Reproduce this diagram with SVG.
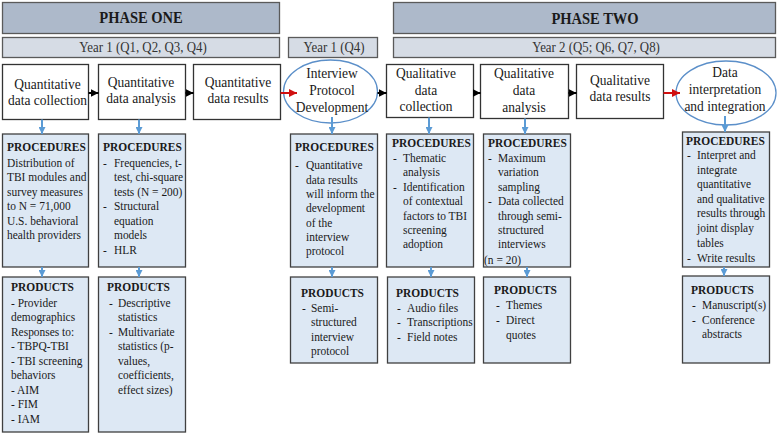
<svg xmlns="http://www.w3.org/2000/svg" width="777" height="433" viewBox="0 0 777 433">
<defs>
<style>
text{font-family:"Liberation Serif","Times New Roman",serif;fill:#1a1a1a}
.phase{fill:#adb9ca;stroke:#5a5a5a;stroke-width:1.3}
.year{fill:#d6dce5;stroke:#5a5a5a;stroke-width:1.3}
.proc{fill:#fff;stroke:#333;stroke-width:1.3}
.ell{fill:#fff;stroke:#5b8fc9;stroke-width:1.3}
.box{fill:#dde8f4;stroke:#404040;stroke-width:1.3}
.pt{font-size:16.5px;font-weight:bold;text-anchor:middle}
.yt{font-size:14px;text-anchor:middle;fill:#333}
.nt{font-size:15px;text-anchor:middle}
.hd{font-size:13px;font-weight:bold}
.bd{font-size:13px}
.blk{stroke:#000;stroke-width:2;fill:none}
.red{stroke:#d01010;stroke-width:2;fill:none}
.blu{stroke:#5b9bd5;stroke-width:2;fill:none}
</style>
<marker id="ab" markerUnits="userSpaceOnUse" markerWidth="8" markerHeight="8" viewBox="0 0 8 8" refX="8" refY="4" orient="auto"><path d="M0,0 L8,4 L0,8 z" fill="#000"/></marker>
<marker id="ar" markerUnits="userSpaceOnUse" markerWidth="8" markerHeight="8" viewBox="0 0 8 8" refX="8" refY="4" orient="auto"><path d="M0,0 L8,4 L0,8 z" fill="#d01010"/></marker>
<marker id="au" markerUnits="userSpaceOnUse" markerWidth="7" markerHeight="7" viewBox="0 0 8 8" refX="8" refY="4" orient="auto"><path d="M0,0 L8,4 L0,8 z" fill="#5b9bd5"/></marker>
</defs>
<rect width="777" height="433" fill="#fff"/>

<g id="phase-one"><rect class="phase" x="2.5" y="2.5" width="277" height="31"/><text class="pt" transform="matrix(0.88 0 0 1 141 0)" x="0" y="23.5">PHASE ONE</text></g>
<g id="phase-two"><rect class="phase" x="393.5" y="2.5" width="382" height="31"/><text class="pt" transform="matrix(0.88 0 0 1 595 0)" x="0" y="24">PHASE TWO</text></g>
<g id="year1"><rect class="year" x="2.5" y="37.5" width="277" height="20"/><text class="yt" transform="matrix(0.92 0 0 1 143 0)" x="0" y="52.5">Year 1 (Q1, Q2, Q3, Q4)</text></g>
<g id="year1q4"><rect class="year" x="288.5" y="37.5" width="89" height="20"/><text class="yt" transform="matrix(0.92 0 0 1 334 0)" x="0" y="52.5">Year 1 (Q4)</text></g>
<g id="year2"><rect class="year" x="393.5" y="37.5" width="382" height="20"/><text class="yt" transform="matrix(0.92 0 0 1 596 0)" x="0" y="52.5">Year 2 (Q5; Q6, Q7, Q8)</text></g>

<g id="quant-collection"><rect class="proc" x="2.5" y="64.5" width="86" height="55"/><text class="nt" transform="matrix(0.9 0 0 1 47.5 0)"><tspan x="0" y="89">Quantitative</tspan><tspan x="0" y="105">data collection</tspan></text></g>
<g id="quant-analysis"><rect class="proc" x="98.5" y="64.5" width="87" height="55"/><text class="nt" transform="matrix(0.9 0 0 1 141 0)"><tspan x="0" y="87.5">Quantitative</tspan><tspan x="0" y="103.5">data analysis</tspan></text></g>
<g id="quant-results"><rect class="proc" x="193.5" y="64.5" width="87" height="55"/><text class="nt" transform="matrix(0.9 0 0 1 238 0)"><tspan x="0" y="87">Quantitative</tspan><tspan x="0" y="103.5">data results</tspan></text></g>
<g id="interview-protocol"><ellipse class="ell" cx="330.5" cy="91.5" rx="47" ry="31.5"/><text class="nt" transform="matrix(0.9 0 0 1 332 0)"><tspan x="0" y="78.5">Interview</tspan><tspan x="0" y="95.5">Protocol</tspan><tspan x="0" y="112">Development</tspan></text></g>
<g id="qual-collection"><rect class="proc" x="386.5" y="64.5" width="87" height="53"/><text class="nt" transform="matrix(0.9 0 0 1 426 0)"><tspan x="0" y="78.5">Qualitative</tspan><tspan x="0" y="95">data</tspan><tspan x="0" y="111.5">collection</tspan></text></g>
<g id="qual-analysis"><rect class="proc" x="480.5" y="64.5" width="88" height="54"/><text class="nt" transform="matrix(0.9 0 0 1 524 0)"><tspan x="0" y="78.5">Qualitative</tspan><tspan x="0" y="95.5">data</tspan><tspan x="0" y="112.5">analysis</tspan></text></g>
<g id="qual-results"><rect class="proc" x="576.5" y="64.5" width="87" height="54"/><text class="nt" transform="matrix(0.9 0 0 1 620 0)"><tspan x="0" y="85.5">Qualitative</tspan><tspan x="0" y="101.5">data results</tspan></text></g>
<g id="interpretation"><ellipse class="ell" cx="726" cy="93" rx="50" ry="32"/><text class="nt" transform="matrix(0.9 0 0 1 725 0)"><tspan x="0" y="77.5">Data</tspan><tspan x="0" y="94.5">interpretation</tspan><tspan x="0" y="111.5">and integration</tspan></text></g>

<g id="proc1"><rect class="box" x="2.5" y="134" width="86" height="133"/>
<text class="hd" transform="matrix(0.88 0 0 1 7 0)" x="0" y="151.5">PROCEDURES</text>
<text class="bd" transform="matrix(0.88 0 0 1 7 0)"><tspan x="0" y="167">Distribution of</tspan><tspan x="0" y="181.5">TBI modules and</tspan><tspan x="0" y="196">survey measures</tspan><tspan x="0" y="210.5">to N = 71,000</tspan><tspan x="0" y="225">U.S. behavioral</tspan><tspan x="0" y="239.5">health providers</tspan></text></g>
<g id="proc2"><rect class="box" x="98.5" y="134" width="87" height="133"/>
<text class="hd" transform="matrix(0.88 0 0 1 103 0)" x="0" y="151.5">PROCEDURES</text>
<text class="bd" transform="matrix(0.88 0 0 1 103 0)"><tspan x="0" y="167">-</tspan><tspan x="12.5" y="167">Frequencies, t-</tspan><tspan x="12.5" y="181.5">test, chi-square</tspan><tspan x="12.5" y="196">tests (N = 200)</tspan><tspan x="0" y="210.5">-</tspan><tspan x="12.5" y="210.5">Structural</tspan><tspan x="12.5" y="225">equation</tspan><tspan x="12.5" y="239.5">models</tspan><tspan x="0" y="254">-</tspan><tspan x="12.5" y="254">HLR</tspan></text></g>
<g id="proc3"><rect class="box" x="290.5" y="134" width="87" height="133"/>
<text class="hd" transform="matrix(0.88 0 0 1 295 0)" x="0" y="151.5">PROCEDURES</text>
<text class="bd" transform="matrix(0.88 0 0 1 295 0)"><tspan x="0" y="169.5">-</tspan><tspan x="12.5" y="169.5">Quantitative</tspan><tspan x="12.5" y="183.8">data results</tspan><tspan x="12.5" y="198.1">will inform the</tspan><tspan x="12.5" y="212.4">development</tspan><tspan x="12.5" y="226.7">of the</tspan><tspan x="12.5" y="241">interview</tspan><tspan x="12.5" y="255.3">protocol</tspan></text></g>
<g id="proc4"><rect class="box" x="386.5" y="134" width="87" height="133"/>
<text class="hd" transform="matrix(0.88 0 0 1 392 0)" x="0" y="147.5">PROCEDURES</text>
<text class="bd" transform="matrix(0.88 0 0 1 393 0)"><tspan x="0" y="162">-</tspan><tspan x="11.4" y="162">Thematic</tspan><tspan x="11.4" y="176.5">analysis</tspan><tspan x="0" y="191">-</tspan><tspan x="11.4" y="191">Identification</tspan><tspan x="11.4" y="205.5">of contextual</tspan><tspan x="11.4" y="220">factors to TBI</tspan><tspan x="11.4" y="234">screening</tspan><tspan x="11.4" y="248.5">adoption</tspan></text></g>
<g id="proc5"><rect class="box" x="483.5" y="134" width="87" height="133"/>
<text class="hd" transform="matrix(0.88 0 0 1 488 0)" x="0" y="147.5">PROCEDURES</text>
<text class="bd" transform="matrix(0.88 0 0 1 488 0)"><tspan x="0" y="162">-</tspan><tspan x="11.4" y="162">Maximum</tspan><tspan x="11.4" y="176.5">variation</tspan><tspan x="11.4" y="191">sampling</tspan><tspan x="0" y="205.5">-</tspan><tspan x="11.4" y="205.5">Data collected</tspan><tspan x="11.4" y="220">through semi-</tspan><tspan x="11.4" y="234">structured</tspan><tspan x="11.4" y="248.5">interviews</tspan><tspan x="-4.5" y="264">(n = 20)</tspan></text></g>
<g id="proc6"><rect class="box" x="682.5" y="132" width="87" height="135"/>
<text class="hd" transform="matrix(0.88 0 0 1 686 0)" x="0" y="145.5">PROCEDURES</text>
<text class="bd" transform="matrix(0.88 0 0 1 687 0)"><tspan x="0" y="159">-</tspan><tspan x="11.4" y="159">Interpret and</tspan><tspan x="11.4" y="174">integrate</tspan><tspan x="11.4" y="188">quantitative</tspan><tspan x="11.4" y="203">and qualitative</tspan><tspan x="11.4" y="217">results through</tspan><tspan x="11.4" y="232">joint display</tspan><tspan x="11.4" y="247">tables</tspan><tspan x="0" y="262">-</tspan><tspan x="11.4" y="262">Write results</tspan></text></g>

<g id="prod1"><rect class="box" x="2.5" y="277" width="86" height="155"/>
<text class="hd" transform="matrix(0.88 0 0 1 11 0)" x="0" y="291.5">PRODUCTS</text>
<text class="bd" transform="matrix(0.88 0 0 1 11 0)"><tspan x="0" y="307">- Provider</tspan><tspan x="0" y="321.5">demographics</tspan><tspan x="0" y="336">Responses to:</tspan><tspan x="0" y="350.5">- TBPQ-TBI</tspan><tspan x="0" y="365">- TBI screening</tspan><tspan x="0" y="379.5">behaviors</tspan><tspan x="0" y="394">- AIM</tspan><tspan x="0" y="408.5">- FIM</tspan><tspan x="0" y="423">- IAM</tspan></text></g>
<g id="prod2"><rect class="box" x="98.5" y="277" width="87" height="155"/>
<text class="hd" transform="matrix(0.88 0 0 1 107 0)" x="0" y="291.5">PRODUCTS</text>
<text class="bd" transform="matrix(0.88 0 0 1 109 0)"><tspan x="0" y="307">-</tspan><tspan x="10.2" y="307">Descriptive</tspan><tspan x="10.2" y="321.5">statistics</tspan><tspan x="0" y="336">-</tspan><tspan x="10.2" y="336">Multivariate</tspan><tspan x="10.2" y="350.5">statistics (p-</tspan><tspan x="10.2" y="365">values,</tspan><tspan x="10.2" y="379.5">coefficients,</tspan><tspan x="10.2" y="394">effect sizes)</tspan></text></g>
<g id="prod3"><rect class="box" x="290.5" y="277" width="87" height="86"/>
<text class="hd" transform="matrix(0.88 0 0 1 301 0)" x="0" y="297">PRODUCTS</text>
<text class="bd" transform="matrix(0.88 0 0 1 302 0)"><tspan x="0" y="312">-</tspan><tspan x="10.2" y="312">Semi-</tspan><tspan x="10.2" y="326.5">structured</tspan><tspan x="10.2" y="341">interview</tspan><tspan x="10.2" y="355.5">protocol</tspan></text></g>
<g id="prod4"><rect class="box" x="387.5" y="277" width="87" height="86"/>
<text class="hd" transform="matrix(0.88 0 0 1 396 0)" x="0" y="297">PRODUCTS</text>
<text class="bd" transform="matrix(0.88 0 0 1 397 0)"><tspan x="0" y="312">-</tspan><tspan x="11.4" y="312">Audio files</tspan><tspan x="0" y="326.5">-</tspan><tspan x="11.4" y="326.5">Transcriptions</tspan><tspan x="0" y="341">-</tspan><tspan x="11.4" y="341">Field notes</tspan></text></g>
<g id="prod5"><rect class="box" x="483.5" y="277" width="87" height="86"/>
<text class="hd" transform="matrix(0.88 0 0 1 494 0)" x="0" y="294">PRODUCTS</text>
<text class="bd" transform="matrix(0.88 0 0 1 496 0)"><tspan x="0" y="309">-</tspan><tspan x="11.4" y="309">Themes</tspan><tspan x="0" y="324">-</tspan><tspan x="11.4" y="324">Direct</tspan><tspan x="11.4" y="339">quotes</tspan></text></g>
<g id="prod6"><rect class="box" x="682.5" y="276" width="87" height="87"/>
<text class="hd" transform="matrix(0.88 0 0 1 691 0)" x="0" y="294">PRODUCTS</text>
<text class="bd" transform="matrix(0.88 0 0 1 692 0)"><tspan x="0" y="309">-</tspan><tspan x="11.4" y="309">Manuscript(s)</tspan><tspan x="0" y="324">-</tspan><tspan x="11.4" y="324">Conference</tspan><tspan x="11.4" y="338.5">abstracts</tspan></text></g>

<g id="connectors">
<line class="blk" x1="88.5" y1="93" x2="98.5" y2="93" marker-end="url(#ab)"/>
<line class="blk" x1="185.5" y1="93" x2="193.5" y2="93" marker-end="url(#ab)"/>
<line class="red" x1="280.5" y1="93" x2="297" y2="93" marker-end="url(#ar)"/>
<line class="blk" x1="377.5" y1="93" x2="386.5" y2="93" marker-end="url(#ab)"/>
<line class="blk" x1="473.5" y1="93" x2="480.5" y2="93" marker-end="url(#ab)"/>
<line class="blk" x1="568.5" y1="93" x2="576.5" y2="93" marker-end="url(#ab)"/>
<line class="red" x1="663.5" y1="93" x2="680" y2="93" marker-end="url(#ar)"/>
<line class="blu" x1="42" y1="119.5" x2="42" y2="134" marker-end="url(#au)"/>
<line class="blu" x1="139" y1="119.5" x2="139" y2="134" marker-end="url(#au)"/>
<line class="blu" x1="332" y1="117" x2="332" y2="134" marker-end="url(#au)"/>
<line class="blu" x1="429" y1="117.5" x2="429" y2="134" marker-end="url(#au)"/>
<line class="blu" x1="525" y1="118.5" x2="525" y2="134" marker-end="url(#au)"/>
<line class="blu" x1="725" y1="116" x2="725" y2="132" marker-end="url(#au)"/>
<line class="blu" x1="42" y1="267" x2="42" y2="277" marker-end="url(#au)"/>
<line class="blu" x1="139" y1="267" x2="139" y2="277" marker-end="url(#au)"/>
<line class="blu" x1="332" y1="267" x2="332" y2="277" marker-end="url(#au)"/>
<line class="blu" x1="431" y1="267" x2="431" y2="277" marker-end="url(#au)"/>
<line class="blu" x1="527" y1="267" x2="527" y2="277" marker-end="url(#au)"/>
<line class="blu" x1="724" y1="267" x2="724" y2="276" marker-end="url(#au)"/>
</g>
</svg>
